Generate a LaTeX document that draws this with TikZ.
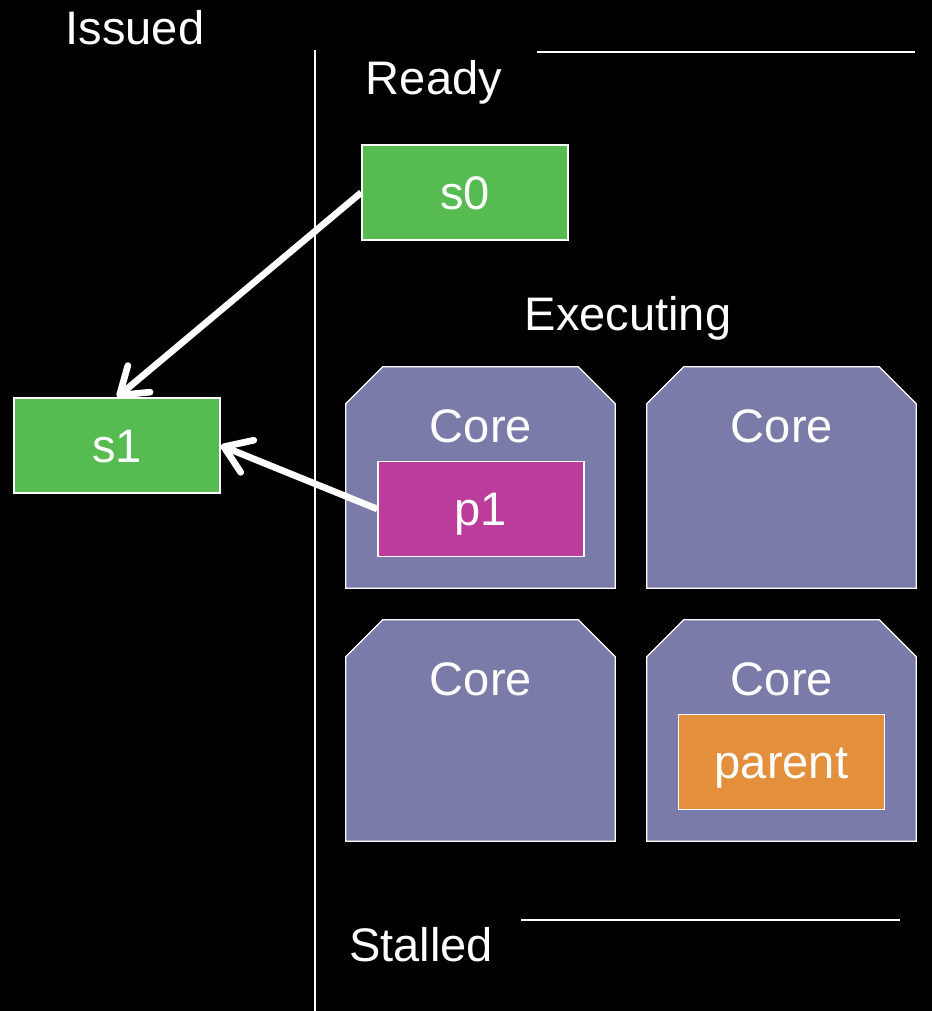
\documentclass[tikz,border=0pt]{standalone}
\usepackage{fontspec}
\setmainfont{Liberation Sans}
\usetikzlibrary{arrows.meta}
\definecolor{taskgreen}{HTML}{56BB50}
\definecolor{corepurple}{HTML}{7A7BA8}
\definecolor{procmagenta}{HTML}{BC3C9C}
\definecolor{parentorange}{HTML}{E38F3B}
\tikzset{
 divider/.style={draw=white,line width=1.5pt},
 heading/.style={text=white,anchor=base,inner sep=0,font=\fontsize{35.3}{40}\selectfont},
 taskbox/.style={rectangle,draw=white,line width=1.1pt,text=white,minimum width=154.5pt,minimum height=71.25pt,inner sep=0,text height=25.2pt,text depth=0pt,font=\fontsize{35.3}{40}\selectfont},
 ready/.style={taskbox,fill=taskgreen},
 running/.style={taskbox,fill=procmagenta},
 waiting/.style={taskbox,fill=parentorange},
 corebox/.style={rectangle,minimum width=201.75pt,minimum height=165.75pt,inner sep=0},
 coreline/.style={draw=white,line width=0.9pt,fill=corepurple},
 move/.style={draw=white,line width=5pt,-{Straight Barb[length=19pt,width=26pt,round]}}
}
\begin{document}
\begin{tikzpicture}[x=0.75pt,y=-0.75pt]
\fill[black,use as bounding box] (0,0) rectangle (932,1011);
\coordinate (splittop) at (315,50);
\coordinate (splitbot) at (315,1011);
\coordinate (readyl) at (537,52);
\coordinate (readyr) at (915,52);
\coordinate (stalll) at (521,920);
\coordinate (stallr) at (900,920);
\draw[divider] (splittop) -- (splitbot);
\draw[divider] (readyl) -- (readyr);
\draw[divider] (stalll) -- (stallr);
\node[heading] (issued) at (135,44) {Issued};
\node[heading] (readyhd) at (434,94) {Ready};
\node[heading] (exechd) at (628,330) {Executing};
\node[heading] (stallhd) at (421,961) {Stalled};
\node[corebox] (core1) at (480.5,477.5) {};
\node[corebox] (core2) at (781.5,477.5) {};
\node[corebox] (core3) at (480.5,730.5) {};
\node[corebox] (core4) at (781.5,730.5) {};
\foreach \c in {core1,core2,core3,core4}
  \path[coreline] (\c.south west) -- ([yshift=-27.75pt]\c.north west) -- ([xshift=27.75pt]\c.north west)
    -- ([xshift=-27.75pt]\c.north east) -- ([yshift=-27.75pt]\c.north east) -- (\c.south east) -- cycle;
\node[heading] (corehd1) at (481,442) {Core};
\node[heading] (corehd2) at (782,442) {Core};
\node[heading] (corehd3) at (481,695) {Core};
\node[heading] (corehd4) at (782,695) {Core};
\node[ready] (s0) at (465,192.5) {s0};
\node[ready] (s1) at (117,445.5) {s1};
\node[running] (p1) at (481,509) {p1};
\node[waiting] (parent) at (781.5,762) {parent};
\draw[move] (s0.west) -- (s1.north);
\draw[move] (p1.west) -- (s1.east);
\end{tikzpicture}
\end{document}
